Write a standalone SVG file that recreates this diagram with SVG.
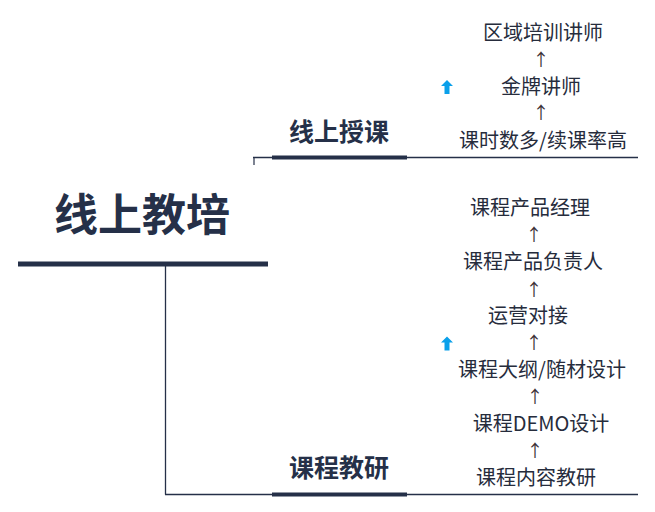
<svg xmlns="http://www.w3.org/2000/svg" width="655" height="512" viewBox="0 0 655 512">
<defs>
<style>
.t{font-family:"Noto Sans CJK SC","Noto Sans",sans-serif;font-size:20px;fill:#262c3c;text-anchor:middle}
.a{font-family:"Noto Sans CJK SC","Noto Sans",sans-serif;font-size:17px;fill:#3a2f35;text-anchor:middle}
.h{font-family:"Noto Sans CJK SC","Noto Sans",sans-serif;font-weight:bold;fill:#253048;text-anchor:middle}
.ln{stroke:#253048;fill:none}
.bar{fill:#253048}
.blue{fill:#0aa0ea}
</style>
<path id="ba" d="M0,-7 L6,-1 L2.5,-1 L2.5,7 L-2.5,7 L-2.5,-1 L-6,-1 Z"/>
</defs>
<rect width="655" height="512" fill="#fff"/>
<g id="connectors">
<line class="ln" x1="165.5" y1="264" x2="165.5" y2="494.5" stroke-width="1.3"/>
<line class="ln" x1="165" y1="494.5" x2="638" y2="494.5" stroke-width="1.3"/>
<line class="ln" x1="253" y1="157.5" x2="638" y2="157.5" stroke-width="1.3"/>
<line class="ln" x1="254" y1="157" x2="254" y2="165" stroke-width="1.2"/>
</g>
<g id="root">
<rect class="bar" x="18" y="261.5" width="250" height="5"/>
<text class="h" x="142" y="231" font-size="44">线上教培</text>
</g>
<g id="branch-online">
<rect class="bar" x="272" y="155.5" width="135" height="4"/>
<text class="h" x="339" y="141" font-size="25">线上授课</text>
</g>
<g id="branch-research">
<rect class="bar" x="272" y="492.5" width="135" height="4"/>
<text class="h" x="339" y="477" font-size="25">课程教研</text>
</g>
<g id="online-path">
<use href="#ba" class="blue" x="447" y="87"/>
<text class="t" x="543" y="40">区域培训讲师</text>
<text class="a" x="541" y="66">↑</text>
<text class="t" x="541" y="94">金牌讲师</text>
<text class="a" x="541" y="119">↑</text>
<text class="t" x="543" y="148">课时数多/续课率高</text>
</g>
<g id="research-path">
<use href="#ba" class="blue" x="447" y="343.5"/>
<text class="t" x="530" y="215">课程产品经理</text>
<text class="a" x="534" y="241">↑</text>
<text class="t" x="533" y="269">课程产品负责人</text>
<text class="a" x="534" y="296">↑</text>
<text class="t" x="528" y="323">运营对接</text>
<text class="a" x="534" y="349">↑</text>
<text class="t" x="542" y="377">课程大纲/随材设计</text>
<text class="a" x="535" y="403">↑</text>
<text class="t" x="541" y="431">课程DEMO设计</text>
<text class="a" x="535" y="457">↑</text>
<text class="t" x="536" y="485">课程内容教研</text>
</g>
</svg>
